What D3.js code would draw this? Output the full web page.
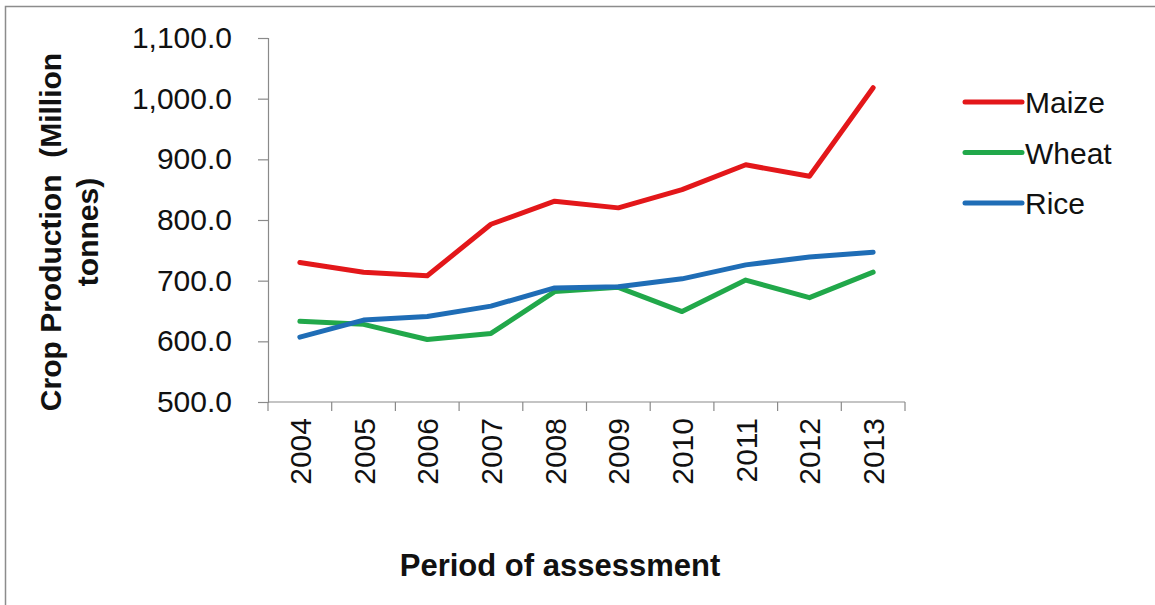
<!DOCTYPE html>
<html>
<head>
<meta charset="utf-8">
<script src="https://cdn.jsdelivr.net/npm/d3@7"></script>
<style>
  html, body { margin: 0; padding: 0; background: #fff; }
  svg { display: block; font-family: "Liberation Sans", Arial, sans-serif; }
</style>
</head>
<body>
<svg id="chart" width="1155" height="605"></svg>
<script>
// Crop production, million tonnes
const years = ["2004", "2005", "2006", "2007", "2008", "2009", "2010", "2011", "2012", "2013"];
const maize = [730, 714, 708, 793, 831, 820, 850, 891, 872, 1018];
const wheat = [633, 628, 603, 613, 682, 689, 649, 701, 672, 714];
const rice  = [607, 635, 641, 658, 688, 690, 703, 726, 739, 747];
const seriesNames = ["Maize", "Wheat", "Rice"];
const seriesColors = ["#e3171a", "#21a84a", "#1f6db6"];
const yTicks = [500, 600, 700, 800, 900, 1000, 1100];

const series = [maize, wheat, rice].map((values, i) => ({
  name: seriesNames[i],
  color: seriesColors[i],
  values
}));

const svg = d3.select("#chart");

// outer frame of the chart
svg.append("rect")
  .attr("x", 5.5).attr("y", 6.5)
  .attr("width", 1160).attr("height", 610)
  .attr("fill", "none")
  .attr("stroke", "#8c8c8c")
  .attr("stroke-width", 1.5);

const plot = { left: 268, right: 905, top: 38, bottom: 402 };

const x = d3.scaleBand().domain(years).range([plot.left, plot.right]);
const y = d3.scaleLinear().domain([500, 1100]).range([plot.bottom, plot.top]);

const axisColor = "#8a8a8a";

// y axis
const yAxis = svg.append("g")
  .attr("transform", `translate(${plot.left},0)`)
  .call(d3.axisLeft(y).tickValues(yTicks).tickSize(10).tickPadding(26)
    .tickFormat(d => d3.format(",.1f")(d)));
yAxis.select(".domain").attr("stroke", axisColor).attr("stroke-width", 1.2);
yAxis.selectAll(".tick line").attr("stroke", axisColor).attr("stroke-width", 1.2);
yAxis.selectAll(".tick text")
  .attr("font-size", 30)
  .attr("fill", "#111")
  .attr("font-family", "Liberation Sans, Arial, sans-serif");

// x axis: ticks on the band edges, labels rotated at band centers
const xAxis = svg.append("g")
  .attr("transform", `translate(0,${plot.bottom})`);
xAxis.append("line")
  .attr("x1", plot.left).attr("x2", plot.right)
  .attr("y1", 0).attr("y2", 0)
  .attr("stroke", axisColor).attr("stroke-width", 1.2);
const edges = years.map(d => x(d)).concat([x(years[years.length - 1]) + x.bandwidth()]);
xAxis.selectAll("line.edge")
  .data(edges)
  .join("line")
  .attr("class", "edge")
  .attr("x1", d => d).attr("x2", d => d)
  .attr("y1", 0).attr("y2", 9)
  .attr("stroke", axisColor).attr("stroke-width", 1.2);
xAxis.selectAll("text.year")
  .data(years)
  .join("text")
  .attr("class", "year")
  .attr("transform", d => `translate(${x(d) + x.bandwidth() / 2 + 11},16) rotate(-90)`)
  .attr("text-anchor", "end")
  .attr("font-size", 30)
  .attr("fill", "#111")
  .text(d => d);

// series lines
const line = d3.line()
  .x((d, i) => x(years[i]) + x.bandwidth() / 2)
  .y(d => y(d));

svg.append("g")
  .selectAll("path")
  .data(series)
  .join("path")
  .attr("d", d => line(d.values))
  .attr("fill", "none")
  .attr("stroke", d => d.color)
  .attr("stroke-width", 5)
  .attr("stroke-linejoin", "round")
  .attr("stroke-linecap", "round");

// legend
const legend = svg.append("g").attr("transform", "translate(965,102)");
const item = legend.selectAll("g")
  .data(series)
  .join("g")
  .attr("transform", (d, i) => `translate(0,${i * 50.5})`);
item.append("line")
  .attr("x1", 0).attr("x2", 57)
  .attr("stroke", d => d.color)
  .attr("stroke-width", 5)
  .attr("stroke-linecap", "round");
item.append("text")
  .attr("x", 60).attr("y", 11)
  .attr("font-size", 30)
  .attr("fill", "#111")
  .text(d => d.name);

// axis titles
const yTitle = svg.append("text")
  .attr("transform", "translate(61,232) rotate(-90)")
  .attr("text-anchor", "middle")
  .attr("font-size", 30)
  .attr("font-weight", "bold")
  .attr("fill", "#111");
yTitle.append("tspan").attr("x", 0).attr("y", 0).text("Crop Production\u00A0 (Million");
yTitle.append("tspan").attr("x", 0).attr("y", 37).text("tonnes)");

svg.append("text")
  .attr("x", 560).attr("y", 576)
  .attr("text-anchor", "middle")
  .attr("font-size", 31)
  .attr("font-weight", "bold")
  .attr("fill", "#111")
  .text("Period of assessment");
</script>
</body>
</html>
